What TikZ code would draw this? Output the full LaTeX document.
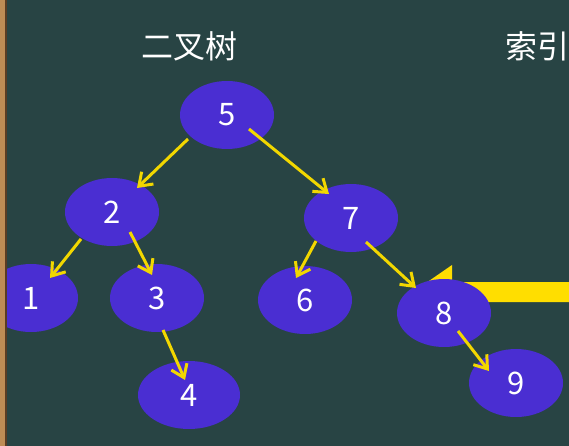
\documentclass[tikz,border=0pt]{standalone}
\usepackage{fontspec}
\newfontfamily\cjk{Noto Sans CJK SC}
\usetikzlibrary{arrows.meta, shapes.geometric}
\definecolor{board}{RGB}{40,68,68}
\definecolor{wood}{RGB}{190,140,85}
\definecolor{woodedge}{RGB}{90,60,35}
\definecolor{keyfill}{RGB}{74,46,210}
\definecolor{linkyellow}{RGB}{242,215,0}
\definecolor{pointer}{RGB}{255,222,0}
\begin{document}
\begin{tikzpicture}[x = 1pt, y = -1pt,
    every node/.style={text=white},
    key/.style={ellipse, fill=keyfill, minimum width=94pt, minimum height=68pt,
                inner sep=0pt, font=\cjk\fontsize{31}{31}\selectfont},
    link/.style={draw=linkyellow, line width=3pt,
                 -{Straight Barb[length=12pt, width=17pt]}}]
    \useasboundingbox (0, 0) rectangle (569, 446);
    \fill[board] (0, 0) rectangle (569, 446);
    % pointer to the index
    \fill[pointer] (569, 282) -- (452, 282) -- (452, 265) -- (413, 292)
          -- (452, 319) -- (452, 302) -- (569, 302) -- cycle;
    \node[font=\cjk\fontsize{32}{32}\selectfont] (tree) at (189, 46) {二叉树};
    \node[font=\cjk\fontsize{32}{32}\selectfont] (index) at (537, 46) {索引};
    \node[key] (n5) at (227, 115) {5};
    \node[key] (n2) at (112, 212) {2};
    \node[key] (n7) at (351, 218) {7};
    \node[key] (n1) at (31, 298) {1};
    \node[key] (n3) at (157, 298) {3};
    \node[key] (n6) at (305, 300) {6};
    \node[key] (n8) at (444, 313) {8};
    \node[key, minimum width=102pt] (n4) at (189, 395) {4};
    \node[key] (n9) at (516, 383) {9};
    % links, from inside one key to inside the next
    \draw[link] ([shift={(-39, 24)}]n5.center) -- ([shift={(25, -24)}]n2.center);
    \draw[link] ([shift={(22, 14)}]n5.center) -- ([shift={(-22, -24)}]n7.center);
    \draw[link] ([shift={(-31, 27)}]n2.center) -- ([shift={(19, -20)}]n1.center);
    \draw[link] ([shift={(18, 20)}]n2.center) -- ([shift={(-5, -23)}]n3.center);
    \draw[link] ([shift={(6, 32)}]n3.center) -- ([shift={(-4, -15)}]n4.center);
    \draw[link] ([shift={(-35, 23)}]n7.center) -- ([shift={(-9, -22)}]n6.center);
    \draw[link] ([shift={(15, 24)}]n7.center) -- ([shift={(-28, -25)}]n8.center);
    \draw[link] ([shift={(14, 18)}]n8.center) -- ([shift={(-27, -12)}]n9.center);
    % frame
    \fill[wood] (0, 0) rectangle (5, 446);
    \fill[woodedge] (5, 0) rectangle (7, 446);
\end{tikzpicture}
\end{document}
